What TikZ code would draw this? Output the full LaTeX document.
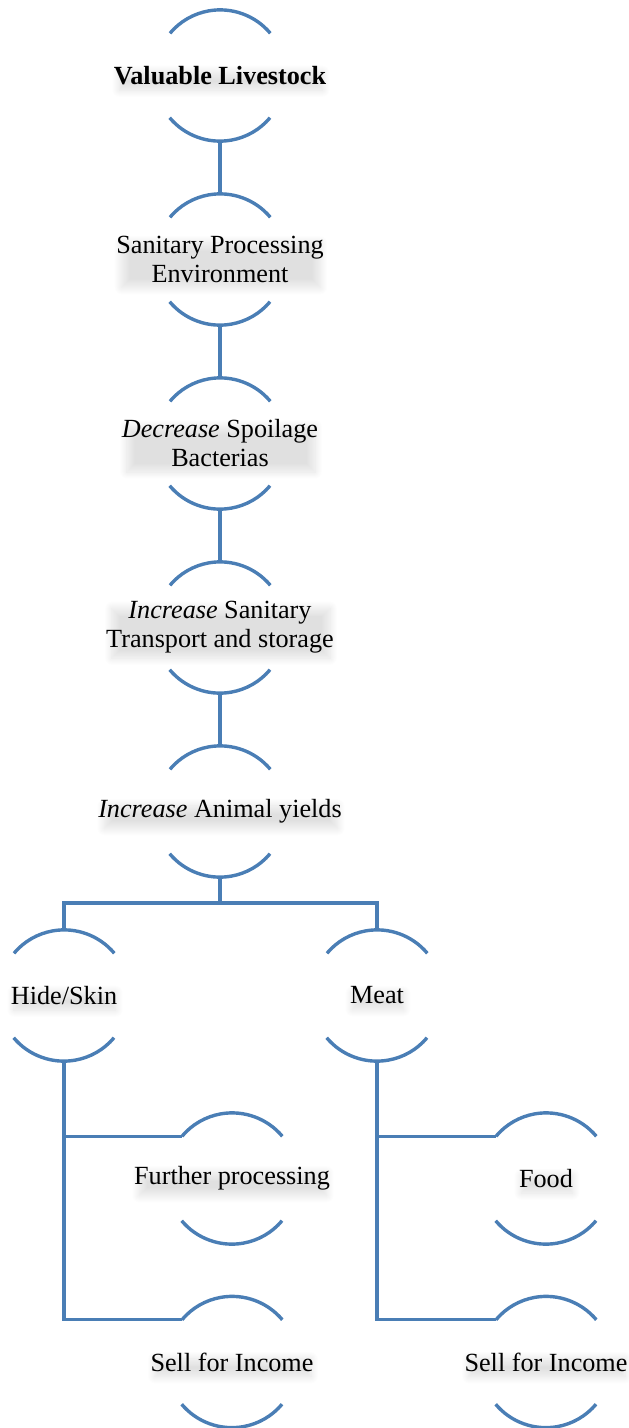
\documentclass[tikz,border=0pt]{standalone}
\usepackage{fontspec}
\setmainfont{Liberation Serif}
\usetikzlibrary{shadows.blur}
\definecolor{arcblue}{HTML}{4A7EB5}
\tikzset{
  ring/.style={circle, draw=none, minimum size=131pt, inner sep=0pt},
  arcline/.style={draw=arcblue, line width=3.4pt},
  conn/.style={draw=arcblue, line width=3.4pt},
  lbl/.style={align=center, inner sep=0pt, text=black,
    font=\fontsize{26.2}{29}\selectfont,
    blur shadow={shadow xshift=1pt, shadow yshift=-6pt, shadow opacity=12,
      shadow blur radius=8pt, shadow blur steps=16, shadow scale=0.96}}
}
\newcommand{\ringarcs}[1]{%
  \draw[arcline] (#1.40) arc[start angle=40, end angle=140, radius=65.5pt];
  \draw[arcline] (#1.220) arc[start angle=220, end angle=320, radius=65.5pt];
}
\begin{document}
\begin{tikzpicture}[x=1pt,y=1pt]
\useasboundingbox (0,0) rectangle (629,-1428);
% rings
\node[ring] (c1) at (220,-75.5) {};
\node[ring] (c2) at (220,-259.5) {};
\node[ring] (c3) at (220,-443.5) {};
\node[ring] (c4) at (220,-627.5) {};
\node[ring] (c5) at (220,-811.5) {};
\node[ring] (c6) at (64,-995.5) {};
\node[ring] (c7) at (377,-995.5) {};
\node[ring] (c8) at (232,-1178.5) {};
\node[ring] (c9) at (546,-1178.5) {};
\node[ring] (c10) at (232,-1362) {};
\node[ring] (c11) at (546,-1362) {};
\foreach \n in {c1,c2,c3,c4,c5,c6,c7,c8,c9,c10,c11}{\ringarcs{\n}}
% labels
\node[lbl] (t1) at (c1) {\bfseries Valuable Livestock};
\node[lbl] (t2) at (c2) {Sanitary Processing\\Environment};
\node[lbl] (t3) at (c3) {\itshape Decrease\upshape{} Spoilage\\Bacterias};
\node[lbl] (t4) at (c4) {\itshape Increase\upshape{} Sanitary\\Transport and storage};
\node[lbl] (t5) at (c5) {\itshape Increase\upshape{} Animal yields};
\node[lbl] (t6) at (c6) {Hide/Skin};
\node[lbl] (t7) at (c7) {Meat};
\node[lbl] (t8) at (c8) {Further processing};
\node[lbl] (t9) at (c9) {Food};
\node[lbl] (t10) at (c10) {Sell for Income};
\node[lbl] (t11) at (c11) {Sell for Income};
% connectors
\coordinate (bar) at (220,-903);
\draw[conn] (c1.south) -- (c2.north);
\draw[conn] (c2.south) -- (c3.north);
\draw[conn] (c3.south) -- (c4.north);
\draw[conn] (c4.south) -- (c5.north);
\draw[conn] (c5.south) -- (bar);
\draw[conn] (c6.north) |- (bar) -| (c7.north);
\draw[conn] (c6.south) |- (c8.140);
\draw[conn] (c6.south) |- (c10.140);
\draw[conn] (c7.south) |- (c9.140);
\draw[conn] (c7.south) |- (c11.140);
\end{tikzpicture}
\end{document}
